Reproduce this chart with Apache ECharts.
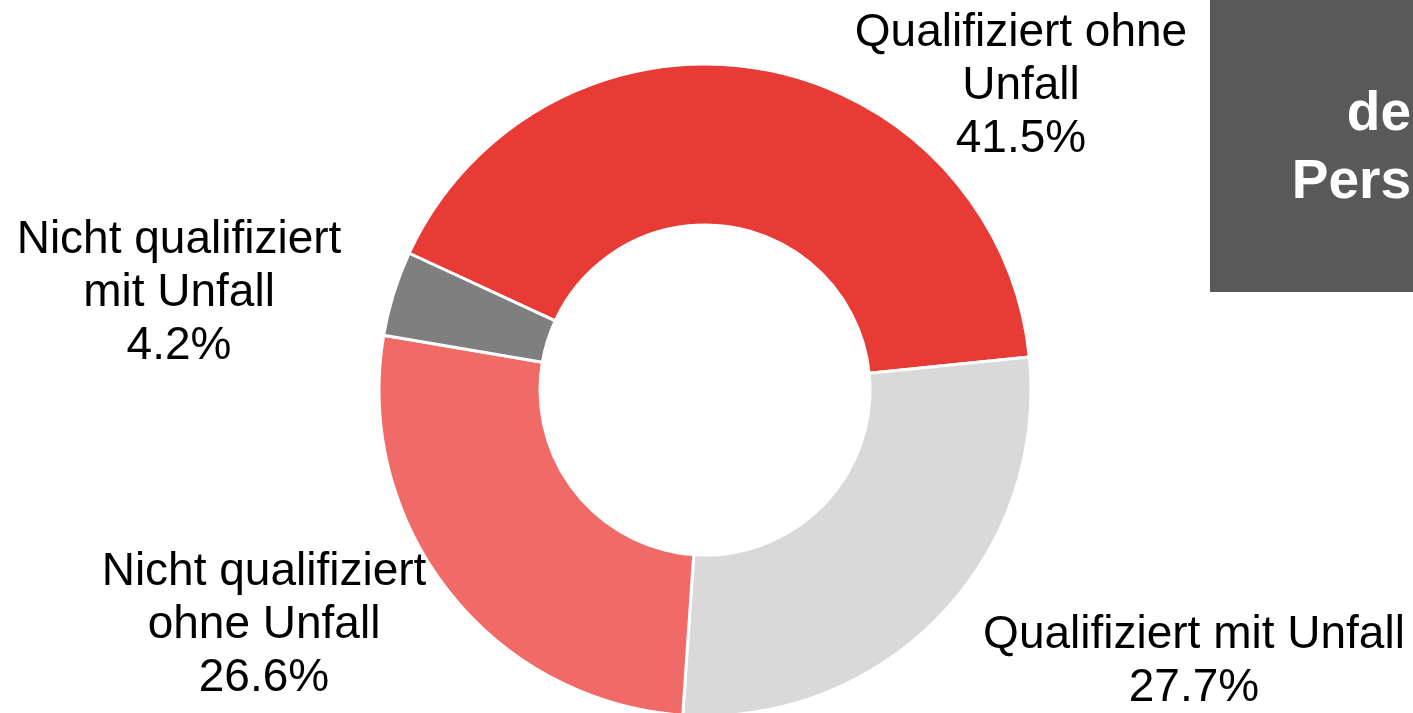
<!DOCTYPE html>
<html>
<head>
<meta charset="utf-8">
<script src="https://cdn.jsdelivr.net/npm/echarts@6/dist/echarts.min.js"></script>
<style>
  html, body { margin: 0; padding: 0; background: #fff; }
  #chart { width: 1413px; height: 713px; }
</style>
</head>
<body>
<div id="chart"></div>
<script>
const names = ['Qualifiziert ohne\nUnfall', 'Qualifiziert mit Unfall', 'Nicht qualifiziert\nohne Unfall', 'Nicht qualifiziert\nmit Unfall'];
const shares = [41.5, 27.7, 26.6, 4.2];
const colors = ['#E83B36', '#D9D9D9', '#F06A68', '#7F7F7F'];

// where each label block sits (centre of the text)
const labelSpots = [[1021, 86], [1194, 662], [264, 625], [179, 293]];

const chart = echarts.init(document.getElementById('chart'));

const option = {
    animation: false,
    graphic: [
        {
            type: 'rect',
            shape: { x: 1210, y: 0, width: 203, height: 292 },
            style: { fill: '#595959' }
        },
        {
            type: 'text',
            style: {
                text: 'de', x: 1411, y: 115, align: 'right', verticalAlign: 'middle',
                fill: '#fff', font: 'bold 55px "Liberation Sans", Arial, sans-serif'
            }
        },
        {
            type: 'text',
            style: {
                text: 'Pers', x: 1411, y: 183, align: 'right', verticalAlign: 'middle',
                fill: '#fff', font: 'bold 55px "Liberation Sans", Arial, sans-serif'
            }
        }
    ],
    series: [{
        type: 'pie',
        center: [705, 390],
        radius: [165, 326],
        startAngle: 155.2,
        clockwise: true,
        avoidLabelOverlap: false,
        itemStyle: { borderColor: '#fff', borderWidth: 3 },
        label: {
            show: true,
            position: 'outside',
            color: '#000',
            fontFamily: '"Liberation Sans", Arial, sans-serif',
            fontSize: 46,
            lineHeight: 53,
            align: 'center',
            formatter: p => p.name + '\n' + p.value.toFixed(1) + '%'
        },
        labelLine: { show: false },
        labelLayout: p => ({
            x: labelSpots[p.dataIndex][0],
            y: labelSpots[p.dataIndex][1],
            align: 'center',
            verticalAlign: 'middle'
        }),
        emphasis: { disabled: true },
        data: names.map((n, i) => ({ name: n, value: shares[i], itemStyle: { color: colors[i] } }))
    }]
};

chart.setOption(option);
</script>
</body>
</html>
